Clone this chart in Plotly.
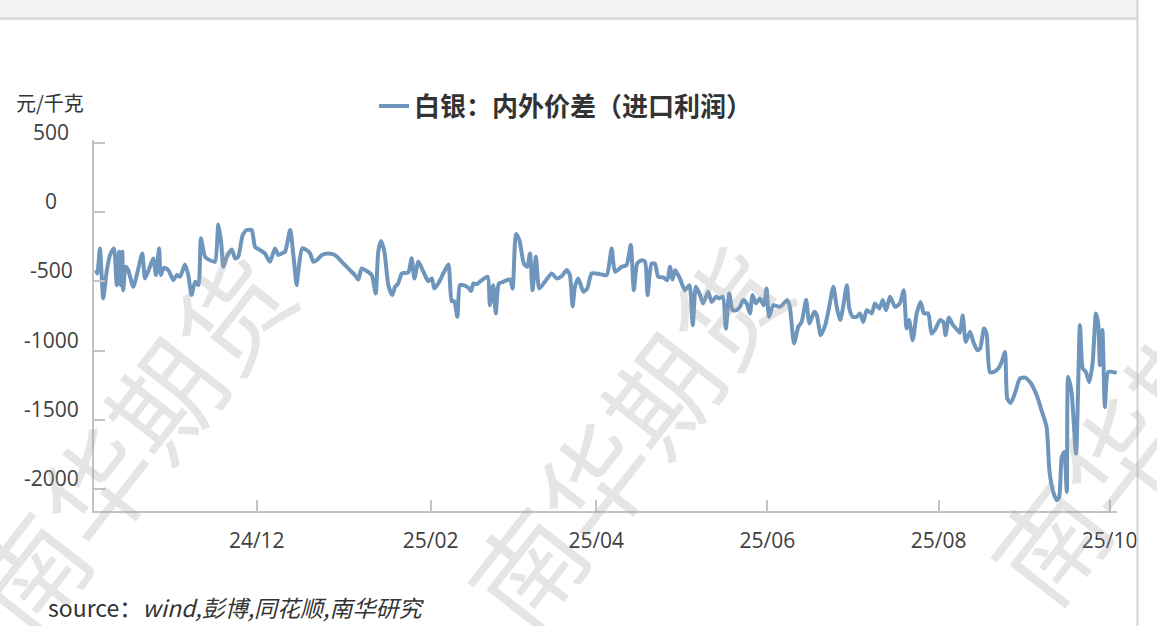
import pandas as pd
import plotly.graph_objects as go

# ---------------- data ----------------
BASE_DATE = "2024-10-04"          # day offsets below are counted from this date
DAY_OFFSET = [
    0.7, 1.2, 2.1, 3.3, 4.5, 5.7, 7.1, 8.1, 9.0, 9.6, 10.1, 10.4, 11.3, 12.2, 14.0,
    15.8, 17.2, 18.2, 19.7, 21.1, 22.1, 23.2, 23.8, 24.9, 26.5, 28.3, 29.5, 30.7,
    32.4, 33.6, 34.8, 36.0, 37.2, 38.1, 39.6, 41.3, 43.1, 44.3, 45.3, 46.1, 47.3,
    49.1, 50.3, 51.4, 53.0, 54.4, 56.2, 57.4, 59.2, 60.9, 62.7, 64.5, 65.7, 66.9,
    68.1, 69.9, 71.3, 72.2,
    72.8, 74.2, 75.8, 77.0, 78.2, 79.4, 81.2, 83.5, 85.9, 88.3, 90.6, 93.0, 94.2,
    95.4, 97.2, 99.0, 100.4, 101.3, 102.3, 103.5, 104.9, 106.3, 107.3, 108.4, 109.7,
    112.0, 113.2, 114.2, 115.6, 117.4, 119.1, 120.4, 121.3, 122.7, 124.5, 126.3,
    127.5, 128.4, 129.5, 130.4, 131.6, 133.4, 134.4, 135.2, 136.4, 138.2, 140.3,
    141.1, 142.3, 143.2, 144.3, 145.9,
    146.5, 148.3, 149.2, 150.4, 151.6, 153.2, 154.4, 155.4, 156.3, 157.5, 158.7,
    160.7, 163.1, 164.9, 166.7, 168.5, 169.6, 170.6, 171.4, 172.6, 174.4, 175.8,
    177.4, 180.3, 182.7, 184.5, 185.7, 188.1, 189.8, 191.3, 192.4, 193.6, 195.2,
    196.4, 197.3, 198.7, 199.9, 201.1, 202.9, 204.3, 205.3, 206.2, 207.1, 208.8,
    210.6, 212.2, 213.4, 214.5, 216.0,
    217.1, 218.9, 220.1, 221.7, 222.8, 224.1, 225.2, 226.4, 227.6, 229.0, 230.2,
    231.4, 232.6, 233.8, 234.7, 235.9, 237.3, 238.7, 239.7, 240.6, 242.1, 244.5,
    247.1, 248.0, 249.5, 251.0, 252.2, 253.8, 255.0, 256.7, 257.6, 259.0, 260.6,
    261.8, 263.5, 264.7, 265.9, 267.0, 268.3, 269.2, 270.4, 271.8, 273.0, 274.2,
    275.4, 277.2, 278.3, 279.9, 281.1, 282.3, 283.7, 285.5, 287.2,
    288.6, 289.6, 290.5, 291.8, 293.2, 294.6, 295.8, 297.3, 298.5, 299.7, 301.5,
    302.7, 303.5, 304.7, 306.2, 307.7, 308.6, 309.6, 310.7, 312.2, 313.4, 314.8,
    315.8, 317.2, 318.1, 319.3, 320.7, 322.3, 323.5, 324.7, 325.5, 326.7, 328.2,
    330.0, 331.8, 333.6, 336.0, 337.7, 339.5, 340.5, 341.7, 343.1, 344.0, 344.9,
    345.8, 346.7, 347.2, 348.4, 350.0, 351.4, 352.4, 353.5, 354.7, 355.9, 357.1,
    357.9, 358.5, 359.4, 360.3, 361.5, 364.5,
]
SPREAD = [
    -418, -442, -261, -623, -430, -309, -261, -527, -285, -527, -285, -563, -394, -418, -539,
    -406, -297, -478, -406, -333, -454, -261, -454, -401, -418, -491, -454, -466,
    -377, -454, -599, -503, -527, -188, -322, -346, -358, -87, -213, -394, -322,
    -268, -333, -322, -164, -128, -128, -249, -273, -297, -358, -261, -309, -297,
    -285, -128, -358, -527,
    -430, -261, -273, -297, -358, -346, -309, -297, -309, -358, -406, -454, -486,
    -406, -425, -454, -587, -285, -208, -285, -527, -599, -539, -515, -442,
    -435, -333, -478, -358, -430, -498, -478, -551, -515, -442, -377,
    -643, -643, -756, -527, -527, -546, -570, -515, -520, -491, -466,
    -672, -527, -732, -515, -503,
    -496, -486, -551, -157, -201, -370, -394, -297, -563, -322, -551,
    -503, -442, -478, -462, -418, -454, -679, -539, -478, -575, -551,
    -442, -447, -454, -261, -430, -394, -382, -237, -563, -370, -346,
    -358, -599, -370, -370, -466, -471, -491, -394, -486, -418, -478,
    -563, -527, -817, -539, -599,
    -659, -575, -648, -611, -623, -611, -841, -587, -708, -708, -684,
    -635, -659, -732, -599, -659, -623, -672, -551, -756, -672, -684,
    -635, -684, -949, -829, -793, -635, -804, -720, -744, -889, -817,
    -708, -539, -684, -780, -684, -527, -696, -756, -756, -732, -793,
    -708, -732, -659, -696, -635, -708, -611, -684, -659,
    -563, -841, -780, -925, -732, -648, -732, -732, -877, -852, -780,
    -793, -889, -761, -817, -852, -872, -746, -938, -865, -938, -998,
    -986, -841, -877, -1155, -1155, -1130, -1083, -1010, -1348, -1380, -1312,
    -1203, -1196, -1228, -1324, -1433, -1553, -1867, -2012, -2085, -2061, -1771,
    -1735, -2024, -1191, -1300, -1746, -817, -1130, -1155, -1228, -1094, -732,
    -804, -1106, -852, -1409, -1155, -1162,
]
SERIES_NAME = "白银：内外价差（进口利润）"
X_TICK_DATES = ["2024-12-01", "2025-02-01", "2025-04-01", "2025-06-01", "2025-08-01", "2025-10-01"]
X_TICK_LABELS = ["24/12", "25/02", "25/04", "25/06", "25/08", "25/10"]
Y_TICKS = [500, 0, -500, -1000, -1500, -2000]
Y_TICK_LABELS = ["500", "0", "-500", "-1000", "-1500", "-2000"]
Y_UNIT = "元/千克"
SOURCE = "source：<i>wind,彭博,同花顺,南华研究</i>"
WATERMARK = "南华期货"

# ---------------- figure ----------------
W, H = 1157, 626
ML, MR, MT, MB = 94, 40, 140, 115
PW, PH = W - ML - MR, H - MT - MB


def px(xp):
    return (xp - ML) / PW


def py(yp):
    return (H - MB - yp) / PH


base = pd.Timestamp(BASE_DATE)
dates = base + pd.to_timedelta(DAY_OFFSET, unit="D")
x_end = base + pd.to_timedelta(364.6, unit="D")

fig = go.Figure()
fig.add_trace(go.Scatter(
    x=dates, y=SPREAD, mode="lines", name=SERIES_NAME,
    line=dict(color="#6E96BD", width=4, shape="spline", smoothing=0.6),
))

CJK = "Noto Sans CJK SC"
NUM = "Open Sans"
AX = "#c3c3c3"

fig.update_layout(
    width=W, height=H,
    margin=dict(l=ML, r=MR, t=MT, b=MB, autoexpand=False),
    paper_bgcolor="white", plot_bgcolor="white",
    showlegend=True,
    legend=dict(orientation="h", x=px(374), xanchor="left", y=py(106), yanchor="middle",
                font=dict(family=CJK, size=26, color="#333333", weight="bold"),
                bgcolor="rgba(0,0,0,0)"),
    xaxis=dict(type="date", range=[base, x_end], showgrid=False, zeroline=False,
               showline=True, linecolor=AX, linewidth=2,
               ticks="inside", ticklen=11, tickwidth=1.5, tickcolor=AX,
               tickvals=X_TICK_DATES, ticktext=X_TICK_LABELS,
               ticklabelstandoff=10,
               tickfont=dict(family=NUM, size=21, color="#404040")),
    yaxis=dict(range=[-2162, 524], showgrid=False, zeroline=False,
               showline=True, linecolor=AX, linewidth=2,
               ticks="inside", ticklen=11, tickwidth=1.5, tickcolor=AX,
               tickvals=Y_TICKS, showticklabels=False),
)

ann = []
for v, t in zip(Y_TICKS, Y_TICK_LABELS):
    ann.append(dict(x=px(51), xref="paper", y=v, yref="y", yshift=11, text=t,
                    showarrow=False, xanchor="center", yanchor="middle",
                    font=dict(family=NUM, size=21, color="#404040")))
ann.append(dict(x=px(50), xref="paper", y=py(102), yref="paper", text=Y_UNIT,
                showarrow=False, xanchor="center", yanchor="middle",
                font=dict(family=CJK, size=20, color="#333333")))
ann.append(dict(x=px(46), xref="paper", y=py(607), yref="paper", text=SOURCE,
                showarrow=False, xanchor="left", yanchor="middle",
                font=dict(family=CJK, size=23, color="#333333")))
for cx, cy in [(128, 440), (625, 435), (1148, 410)]:
    ann.append(dict(x=px(cx), xref="paper", y=py(cy), yref="paper", text=WATERMARK,
                    showarrow=False, xanchor="center", yanchor="middle", textangle=-52,
                    font=dict(family=CJK, size=110, color="rgba(160,160,160,0.28)")))
fig.update_layout(annotations=ann)

shapes = [
    dict(type="rect", xref="paper", yref="paper", x0=px(-5), x1=px(1137), y0=py(17), y1=py(-5),
         fillcolor="#f2f2f2", line=dict(width=0), layer="below"),
    dict(type="line", xref="paper", yref="paper", x0=px(-5), x1=px(1137), y0=py(18.5), y1=py(18.5),
         line=dict(color="#dcdcdc", width=3)),
    dict(type="line", xref="paper", yref="paper", x0=px(1137.5), x1=px(1137.5), y0=py(-5), y1=py(630),
         line=dict(color="#d4d4d4", width=2)),
]
fig.update_layout(shapes=shapes)

fig.write_html("out.html", config={"displayModeBar": False},
               post_script="document.body.style.margin='0';document.body.style.overflow='hidden';")
